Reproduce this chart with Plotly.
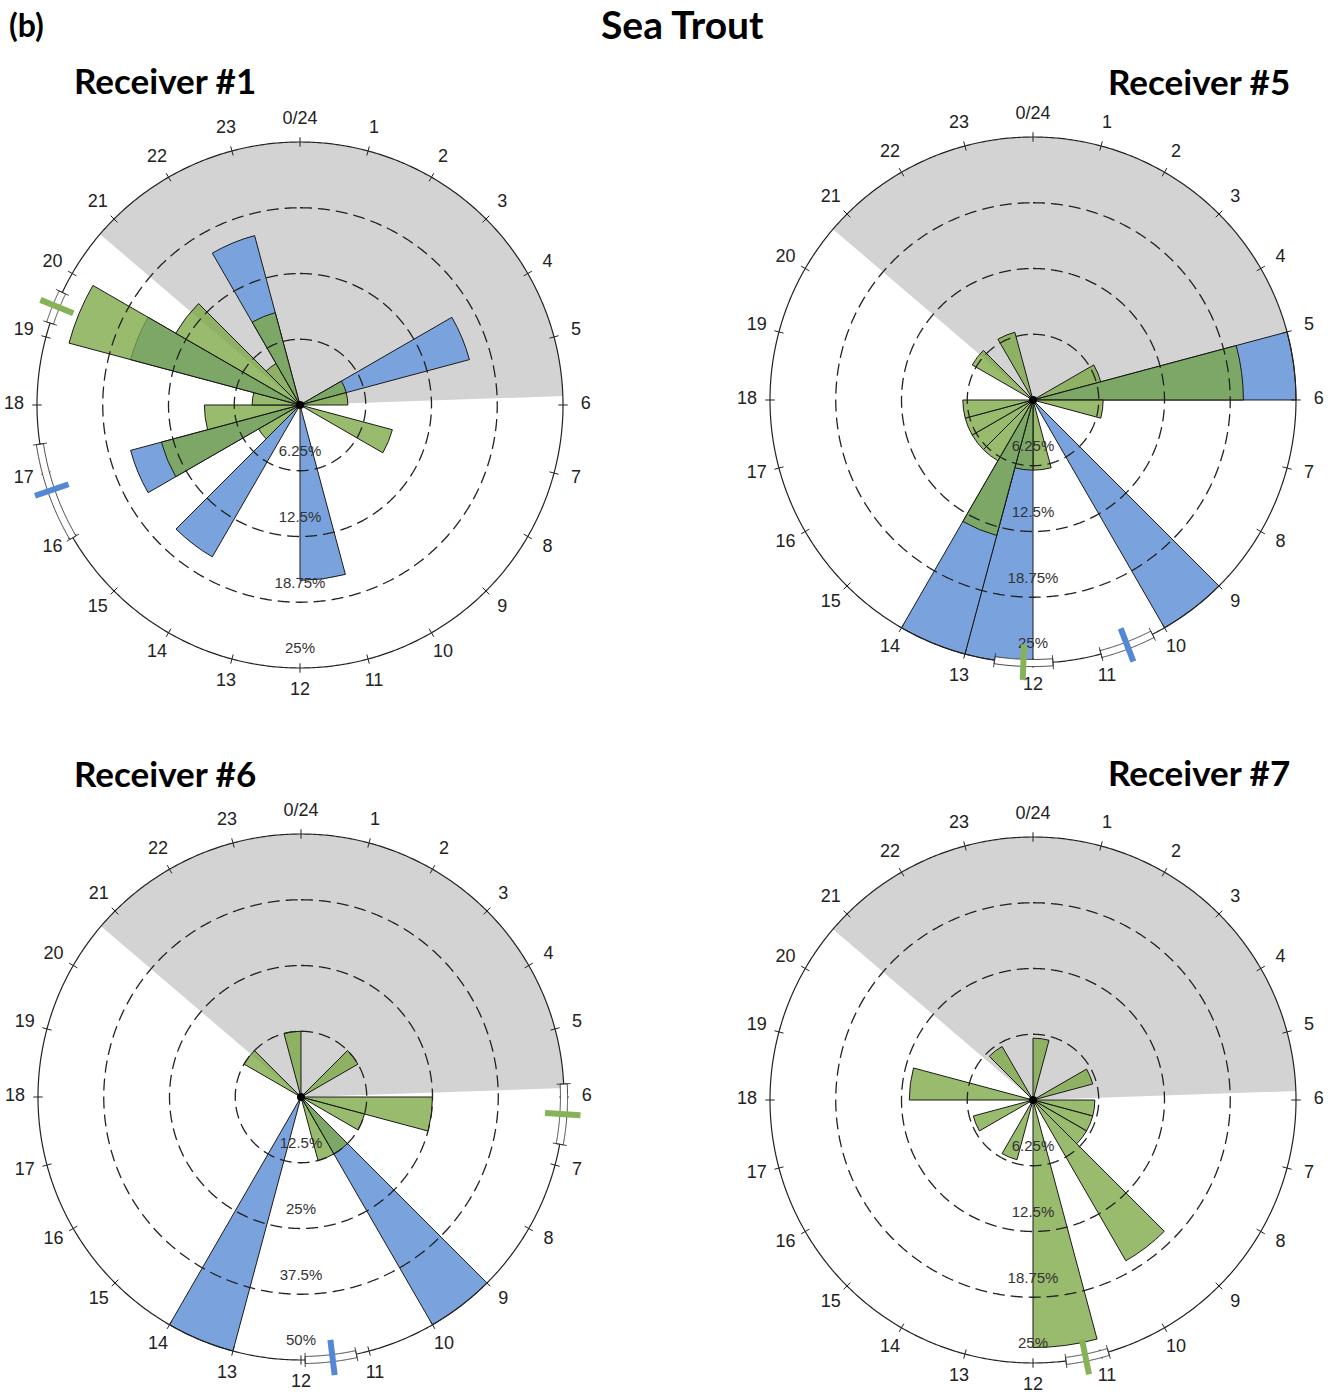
import numpy as np
import plotly.graph_objects as go

# ---------------- data ----------------
HOURS = list(range(24))
HOUR_LABELS = ["0/24"] + [str(h) for h in range(1, 24)]

NIGHT_START = 20.7   # hour where grey (night) shading begins
NIGHT_END = 5.87     # hour where grey shading ends

#            0  1  2  3  4      5     6  7     8  9 10 11     12 13 14     15    16     17    18    19     20     21    22    23
R1_BLUE  = [0, 0, 0, 0, 16.67, 0,    0, 0,    0, 0, 0, 16.67, 0, 0, 16.67, 0,    16.67, 0,    0,    16.67, 0,     0,    16.67, 0]
R1_GREEN = [0, 0, 0, 0, 4.55,  4.55, 0, 9.09, 0, 0, 0, 0,     0, 0, 0,     4.55, 13.64, 9.09, 4.55, 22.73, 13.64, 4.55, 9.09,  0]

R5_BLUE  = [0, 0, 0, 0, 0,    25, 0,    0, 0, 25, 0, 0,    25,   25,    0,    0,    0,    0,    0, 0, 0,    0, 0,    0]
R5_GREEN = [0, 0, 0, 0, 6.67, 20, 6.67, 0, 0, 0,  0, 6.67, 6.67, 13.33, 6.67, 6.67, 6.67, 6.67, 0, 0, 6.67, 0, 6.67, 0]

R6_BLUE  = [0, 0, 0, 0,    0, 0, 0,  0,    0, 50,   0,    0, 0, 50, 0, 0, 0, 0, 0, 0, 0,    0, 0, 0]
R6_GREEN = [0, 0, 0, 12.5, 0, 0, 25, 12.5, 0, 12.5, 12.5, 0, 0, 0,  0, 0, 0, 0, 0, 0, 12.5, 0, 0, 12.5]

R7_BLUE  = [0] * 24
R7_GREEN = [5.88, 0, 0, 0, 5.88, 0, 5.88, 5.88, 5.88, 17.65, 0, 23.53, 0, 5.88, 0, 0, 5.88, 0, 11.76, 0, 0, 5.88, 0, 0]

RINGS_25 = [6.25, 12.5, 18.75, 25]
RING_LABELS_25 = ["6.25%", "12.5%", "18.75%", "25%"]
RINGS_50 = [12.5, 25, 37.5, 50]
RING_LABELS_50 = ["12.5%", "25%", "37.5%", "50%"]

# mean direction (hours) and 95% CI (hours)
R1_GREEN_MEAN, R1_GREEN_CI = 19.47, [19.21, 19.69]
R1_BLUE_MEAN, R1_BLUE_CI = 16.74, [15.98, 17.43]
R5_GREEN_MEAN, R5_GREEN_CI = 12.14, [11.71, 12.56]
R5_BLUE_MEAN, R5_BLUE_CI = 10.60, [10.20, 11.00]
R6_GREEN_MEAN, R6_GREEN_CI = 6.25, [5.81, 6.69]
R6_BLUE_MEAN, R6_BLUE_CI = 11.54, [11.19, 11.94]
R7_GREEN_MEAN, R7_GREEN_CI = 11.23, [10.89, 11.52]

TITLES = ["Receiver #1", "Receiver #5", "Receiver #6", "Receiver #7"]

# ---------------- styles ----------------
W, H = 1336, 1395
R_PX = 263
K = 1.10
GRAY = "rgb(211,211,211)"
BLUE = "rgb(122,163,222)"
GREEN = "rgba(124,168,68,0.78)"
MEAN_GREEN = "rgb(134,178,88)"
MEAN_BLUE = "rgb(84,136,214)"
LABEL_FONT = "Liberation Sans, Arial, sans-serif"
TITLE_FONT = "Lato, Open Sans, sans-serif"


def px(x):
    return x / W


def py(y):
    return 1 - y / H


fig = go.Figure()

panels = [
    dict(pid="polar", cx=300, cy=405, blue=R1_BLUE, green=R1_GREEN, rings=RINGS_25, rl=RING_LABELS_25,
         gm=R1_GREEN_MEAN, gci=R1_GREEN_CI, bm=R1_BLUE_MEAN, bci=R1_BLUE_CI),
    dict(pid="polar2", cx=1033, cy=400, blue=R5_BLUE, green=R5_GREEN, rings=RINGS_25, rl=RING_LABELS_25,
         gm=R5_GREEN_MEAN, gci=R5_GREEN_CI, bm=R5_BLUE_MEAN, bci=R5_BLUE_CI),
    dict(pid="polar3", cx=301, cy=1097, blue=R6_BLUE, green=R6_GREEN, rings=RINGS_50, rl=RING_LABELS_50,
         gm=R6_GREEN_MEAN, gci=R6_GREEN_CI, bm=R6_BLUE_MEAN, bci=R6_BLUE_CI),
    dict(pid="polar4", cx=1033, cy=1100, blue=R7_BLUE, green=R7_GREEN, rings=RINGS_25, rl=RING_LABELS_25,
         gm=R7_GREEN_MEAN, gci=R7_GREEN_CI, bm=None, bci=None),
]

ring_theta = np.linspace(0, 360, 721)


def ci_traces(pid, rmax, mean_h, ci, color):
    d = 0.0135
    t1, t2 = ci[0] * 15, ci[1] * 15
    tt = np.linspace(t1, t2, 60)
    theta = list(tt) + list(tt[::-1]) + [tt[0]]
    r = [rmax * (1 + d)] * len(tt) + [rmax * (1 - d)] * len(tt) + [rmax * (1 + d)]
    fig.add_trace(go.Scatterpolar(r=r, theta=theta, mode="lines", fill="toself", fillcolor="white",
                                  line=dict(color="#333", width=0.9), subplot=pid, hoverinfo="skip",
                                  showlegend=False))
    cr, ct = [], []
    for t in (t1, t2):
        cr += [rmax * (1 - 2 * d), rmax * (1 + 2 * d), None]
        ct += [t, t, None]
    fig.add_trace(go.Scatterpolar(r=cr, theta=ct, mode="lines", line=dict(color="#333", width=0.9),
                                  subplot=pid, hoverinfo="skip", showlegend=False))
    fig.add_trace(go.Scatterpolar(r=[rmax * 0.93, rmax * 1.065], theta=[mean_h * 15, mean_h * 15],
                                  mode="lines", line=dict(color=color, width=6), subplot=pid,
                                  hoverinfo="skip", showlegend=False))


for p in panels:
    pid = p["pid"]
    rings = p["rings"]
    rmax = rings[-1]
    # grey night sector
    t_start = NIGHT_START * 15
    t_end = NIGHT_END * 15 + 360
    fig.add_trace(go.Barpolar(r=[rmax], theta=[((t_start + t_end) / 2) % 360], width=[t_end - t_start],
                              marker=dict(color=GRAY, line=dict(width=0)), subplot=pid,
                              hoverinfo="skip", showlegend=False))
    # blue bars
    bh = [h for h in HOURS if p["blue"][h] > 0]
    if bh:
        fig.add_trace(go.Barpolar(r=[p["blue"][h] for h in bh], theta=[(h + 0.5) * 15 for h in bh],
                                  width=[15] * len(bh),
                                  marker=dict(color=BLUE, line=dict(color="#1a1a1a", width=1)),
                                  subplot=pid, showlegend=False))
    gh = [h for h in HOURS if p["green"][h] > 0]
    fig.add_trace(go.Barpolar(r=[p["green"][h] for h in gh], theta=[(h + 0.5) * 15 for h in gh],
                              width=[15] * len(gh),
                              marker=dict(color=GREEN, line=dict(color="#1a1a1a", width=1)),
                              subplot=pid, showlegend=False))
    # dashed rings
    for v in rings[:-1]:
        fig.add_trace(go.Scatterpolar(r=[v] * len(ring_theta), theta=ring_theta, mode="lines",
                                      line=dict(color="#222", width=1.3, dash="12px,6px"),
                                      subplot=pid, hoverinfo="skip", showlegend=False))
    # outer circle
    fig.add_trace(go.Scatterpolar(r=[rmax] * len(ring_theta), theta=ring_theta, mode="lines",
                                  line=dict(color="#222", width=1.2), subplot=pid,
                                  hoverinfo="skip", showlegend=False))
    # hour ticks
    tr, tt = [], []
    for h in HOURS:
        tr += [rmax * 0.982, rmax * 1.018, None]
        tt += [h * 15, h * 15, None]
    fig.add_trace(go.Scatterpolar(r=tr, theta=tt, mode="lines", line=dict(color="#222", width=1),
                                  subplot=pid, hoverinfo="skip", showlegend=False))
    # hour labels
    fig.add_trace(go.Scatterpolar(r=[rmax * 1.087] * 24, theta=[h * 15 for h in HOURS], mode="text",
                                  text=HOUR_LABELS, cliponaxis=False,
                                  textfont=dict(family=LABEL_FONT, size=18, color="#222"),
                                  subplot=pid, hoverinfo="skip", showlegend=False))
    # ring labels
    fig.add_trace(go.Scatterpolar(r=[v - 0.07 * rmax for v in rings], theta=[180] * len(rings),
                                  mode="text", text=p["rl"], cliponaxis=False,
                                  textfont=dict(family=LABEL_FONT, size=15, color="#333"),
                                  subplot=pid, hoverinfo="skip", showlegend=False))
    # centre dot
    fig.add_trace(go.Scatterpolar(r=[0], theta=[0], mode="markers", marker=dict(color="black", size=8),
                                  subplot=pid, hoverinfo="skip", showlegend=False))
    # mean directions with CI
    if p["bm"] is not None:
        ci_traces(pid, rmax, p["bm"], p["bci"], MEAN_BLUE)
    ci_traces(pid, rmax, p["gm"], p["gci"], MEAN_GREEN)

    half = R_PX * K
    dom = dict(x=[px(p["cx"] - half), px(p["cx"] + half)], y=[py(p["cy"] + half), py(p["cy"] - half)])
    fig.layout[pid] = dict(
        domain=dom, bgcolor="rgba(0,0,0,0)", barmode="overlay", hole=0,
        radialaxis=dict(range=[0, rmax * K], showline=False, showgrid=False, showticklabels=False, ticks=""),
        angularaxis=dict(direction="clockwise", rotation=90, showline=False, showgrid=False,
                         showticklabels=False, ticks=""),
    )

ann = []
ann.append(dict(text="<b>(b)</b>", x=px(7), y=py(25), xanchor="left", yanchor="middle",
                font=dict(family=TITLE_FONT, size=32, color="black")))
ann.append(dict(text="<b>Sea Trout</b>", x=px(682), y=py(24), xanchor="center", yanchor="middle",
                font=dict(family=TITLE_FONT, size=39, color="black")))
ann.append(dict(text="<b>" + TITLES[0] + "</b>", x=px(72), y=py(80), xanchor="left", yanchor="middle",
                font=dict(family=TITLE_FONT, size=35, color="black")))
ann.append(dict(text="<b>" + TITLES[1] + "</b>", x=px(1292), y=py(81), xanchor="right", yanchor="middle",
                font=dict(family=TITLE_FONT, size=35, color="black")))
ann.append(dict(text="<b>" + TITLES[2] + "</b>", x=px(72), y=py(773), xanchor="left", yanchor="middle",
                font=dict(family=TITLE_FONT, size=35, color="black")))
ann.append(dict(text="<b>" + TITLES[3] + "</b>", x=px(1292), y=py(772), xanchor="right", yanchor="middle",
                font=dict(family=TITLE_FONT, size=35, color="black")))
for a in ann:
    a.update(xref="paper", yref="paper", showarrow=False)

fig.update_layout(width=W, height=H, margin=dict(l=0, r=0, t=0, b=0), paper_bgcolor="white",
                  plot_bgcolor="white", annotations=ann, showlegend=False)

fig.write_html("out.html", config={"displayModeBar": False},
               post_script="document.body.style.margin='0px';document.body.style.overflow='hidden';")
